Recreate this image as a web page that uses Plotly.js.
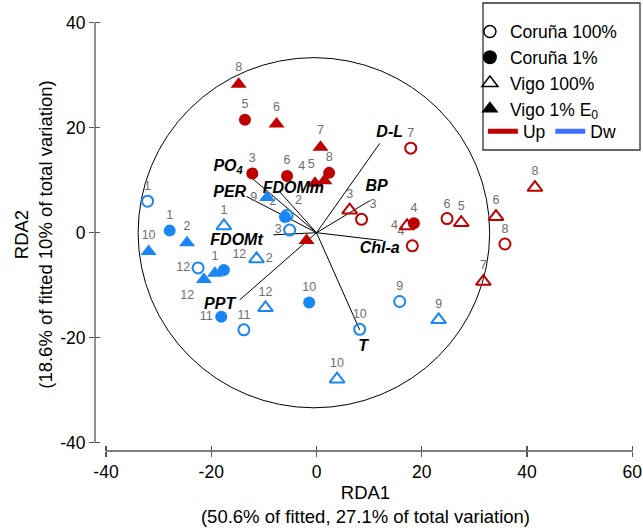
<!DOCTYPE html>
<html><head><meta charset="utf-8">
<script src="https://cdn.plot.ly/plotly-3.0.1.min.js"></script>
<style>html,body{margin:0;padding:0;background:#fff}</style>
</head><body><div id="chart" style="width:643px;height:528px"></div>
<script>
// ---------- data ----------
const xTicks = [-40, -20, 0, 20, 40, 60];
const xTickText = ['-40', '-20', '0', '20', '40', '60'];
const yTicks = [-40, -20, 0, 20, 40];
const yTickText = ['-40', '-20', '0', '20', '40'];

// Coruña 100% (open circles)
const c100UpLab = ['3', '4', '6', '7', '8'];
const c100UpX = [8.55, 18.2, 24.8, 17.9, 35.8];
const c100UpY = [2.55, -2.5, 2.7, 16.1, -2.15];
const c100DwLab = ['1', '2', '3', '9', '10', '11', '12'];
const c100DwX = [-32.1, -5.6, -5.1, 15.8, 8.2, -13.8, -22.5];
const c100DwY = [6.0, 3.3, 0.5, -13.1, -18.4, -18.5, -6.7];

// Coruña 1% (filled circles)
const c1UpLab = ['3', '4', '5', '6', '8'];
const c1UpX = [-12.2, 18.5, -13.6, -5.6, 2.4];
const c1UpY = [11.3, 1.8, 21.5, 10.8, 11.4];
const c1DwLab = ['1', '2', '10', '11', '12'];
const c1DwX = [-27.9, -6.0, -1.4, -18.1, -17.6];
const c1DwY = [0.4, 3.0, -13.3, -16.0, -7.1];

// Vigo 100% (open triangles)
const v100UpLab = ['3', '4', '5', '6', '7', '8'];
const v100UpX = [6.3, 17.2, 27.5, 34.1, 31.7, 41.5];
const v100UpY = [4.3, 1.3, 1.9, 3.05, -9.3, 8.6];
const v100DwLab = ['1', '2', '9', '10', '12'];
const v100DwX = [-17.6, -11.4, 23.2, 3.9, -9.7];
const v100DwY = [1.3, -5.0, -16.6, -27.9, -14.3];

// Vigo 1% E0 (filled triangles)
const v1UpLab = [' ', '4', '5', '6', '7', '8'];
const v1UpX = [-1.9, -0.3, 1.5, -7.6, 0.76, -14.8];
const v1UpY = [-1.5, 9.4, 9.9, 20.7, 16.3, 28.3];
const v1DwLab = ['1', '2', '9', '10', '12'];
const v1DwX = [-19.3, -24.6, -9.4, -31.9, -21.4];
const v1DwY = [-7.7, -1.9, 6.7, -3.6, -8.9];

// Explanatory variables (biplot vectors)
const varNames = ['D-L', 'BP', 'Chl-a', 'T', 'PPT', 'FDOMt', 'PER', 'PO<sub>4</sub>', 'FDOMm'];
const varEndX = [12.0, 10.1, 12.65, 8.2, -14.6, -8.2, -13.3, -13.0, -7.0];
const varEndY = [17.0, 6.1, -1.5, -18.5, -12.8, -0.4, 6.9, 11.0, 7.8];
const varLabX = [13.9, 11.4, 12.0, 8.85, -18.4, -15.2, -16.5, -16.8, -4.4];
const varLabY = [18.9, 8.65, -3.1, -21.7, -13.8, -1.5, 7.6, 12.5, 8.3];

// ---------- label placement (style) ----------
const c100UpPos = ['top right', 'top left', 'top center', 'top center', 'top center'];
const c100DwPos = ['top center', 'top right', 'middle left', 'top center', 'top center', 'top center', 'middle left'];
const c1UpPos = ['top center', 'top center', 'top center', 'top center', 'top center'];
const c1DwPos = ['top center', 'top left', 'top center', 'middle left', 'top right'];
const v100UpPos = ['top center', 'middle left', 'top center', 'top center', 'top center', 'top center'];
const v100DwPos = ['top center', 'middle right', 'top center', 'top center', 'top center'];
const v1UpPos = ['top center', 'top left', 'top left', 'top center', 'top center', 'top center'];
const v1DwPos = ['top center', 'top center', 'middle left', 'top center', 'bottom left'];

const FONT = 'Liberation Sans, Arial, Helvetica, sans-serif';
const RED = '#BE0000';
const BLUE = '#1A86F5';
const LABC = '#6e6e6e';

function pts(x, y, lab, pos, symbol, color, size) {
  const open = symbol.indexOf('open') >= 0;
  return {
    type: 'scatter', mode: 'markers+text', x: x, y: y, text: lab, textposition: pos,
    textfont: {family: FONT, size: 12.5, color: LABC},
    marker: {symbol: symbol, size: size, color: color, line: {color: color, width: open ? 2 : 0}},
    showlegend: false, hoverinfo: 'skip', cliponaxis: false
  };
}

// vectors
const vx = [], vy = [];
for (let i = 0; i < varEndX.length; i++) { vx.push(0, varEndX[i], null); vy.push(0, varEndY[i], null); }

const traces = [
  {type: 'scatter', mode: 'lines', x: vx, y: vy, line: {color: '#000', width: 1}, showlegend: false, hoverinfo: 'skip'},
  pts(c100UpX, c100UpY, c100UpLab, c100UpPos, 'circle-open', RED, 11),
  pts(c100DwX, c100DwY, c100DwLab, c100DwPos, 'circle-open', BLUE, 11),
  pts(v100UpX, v100UpY, v100UpLab, v100UpPos, 'triangle-up-open', RED, 13),
  pts(v100DwX, v100DwY, v100DwLab, v100DwPos, 'triangle-up-open', BLUE, 13),
  pts(c1UpX, c1UpY, c1UpLab, c1UpPos, 'circle', RED, 12),
  pts(c1DwX, c1DwY, c1DwLab, c1DwPos, 'circle', BLUE, 12),
  pts(v1UpX, v1UpY, v1UpLab, v1UpPos, 'triangle-up', RED, 14),
  pts(v1DwX, v1DwY, v1DwLab, v1DwPos, 'triangle-up', BLUE, 14),
  {type: 'scatter', mode: 'text', x: varLabX, y: varLabY,
   text: varNames.map(n => '<b><i>' + n + '</i></b>'), textposition: 'middle center',
   textfont: {family: FONT, size: 16, color: '#000'}, showlegend: false, hoverinfo: 'skip', cliponaxis: false},
  // legend entries
  {type: 'scatter', mode: 'markers', x: [null], y: [null], name: 'Coruña 100%', marker: {symbol: 'circle-open', size: 12, color: '#000', line: {width: 1.5}}, legend: 'legend'},
  {type: 'scatter', mode: 'markers', x: [null], y: [null], name: 'Coruña 1%', marker: {symbol: 'circle', size: 14, color: '#000'}, legend: 'legend'},
  {type: 'scatter', mode: 'markers', x: [null], y: [null], name: 'Vigo 100%', marker: {symbol: 'triangle-up-open', size: 14, color: '#000', line: {width: 1.5}}, legend: 'legend'},
  {type: 'scatter', mode: 'markers', x: [null], y: [null], name: 'Vigo 1% E<sub>0</sub>', marker: {symbol: 'triangle-up', size: 15, color: '#000'}, legend: 'legend'},
  {type: 'scatter', mode: 'lines', x: [null], y: [null], name: 'Up', line: {color: '#C00000', width: 5}, legend: 'legend2'},
  {type: 'scatter', mode: 'lines', x: [null], y: [null], name: 'Dw', line: {color: '#3F6FFF', width: 5}, legend: 'legend2'},
  // overlay axes for crossing ticks
  {type: 'scatter', mode: 'markers', x: [null], y: [null], xaxis: 'x2', yaxis: 'y2', showlegend: false, hoverinfo: 'skip'}
];

const AX = '#555';
const xr = [-42.09, 60.70], yr = [-41.58, 40.9];
const layout = {
  width: 643, height: 528,
  margin: {l: 95, r: 7, t: 18, b: 77, pad: 0},
  paper_bgcolor: '#fff', plot_bgcolor: '#fff',
  font: {family: FONT, color: '#000'},
  xaxis: {range: xr, tickmode: 'array', tickvals: xTicks, ticktext: xTickText, ticks: 'outside', ticklen: 5,
          tickcolor: AX, tickwidth: 1.2, tickfont: {size: 17.5, color: '#000'}, showgrid: false, zeroline: false, showline: false,
          title: {text: 'RDA1<br>(50.6% of fitted, 27.1% of total variation)', font: {size: 18.5, color: '#000'}, standoff: 3}},
  yaxis: {range: yr, tickmode: 'array', tickvals: yTicks, ticktext: yTickText, ticks: 'outside', ticklen: 5,
          tickcolor: AX, tickwidth: 1.2, tickfont: {size: 17.5, color: '#000'}, showgrid: false, zeroline: false, showline: false,
          title: {text: 'RDA2<br>(18.6% of fitted 10% of total variation)', font: {size: 18.5, color: '#000'}, standoff: 2}},
  xaxis2: {overlaying: 'x', matches: 'x', anchor: 'y2', tickmode: 'array', tickvals: xTicks, ticks: 'inside', ticklen: 5,
           tickcolor: AX, tickwidth: 1.2, showticklabels: false, showgrid: false, zeroline: false, showline: false},
  yaxis2: {overlaying: 'y', matches: 'y', anchor: 'x2', tickmode: 'array', tickvals: yTicks, ticks: 'inside', ticklen: 5,
           tickcolor: AX, tickwidth: 1.2, showticklabels: false, showgrid: false, zeroline: false, showline: false},
  legend: {x: 0.693, y: 1.01, xanchor: 'left', yanchor: 'top', bgcolor: 'rgba(0,0,0,0)', borderwidth: 0,
           font: {size: 17.5, color: '#000'}, orientation: 'v', tracegroupgap: 0},
  legend2: {x: 0.717, y: 0.78, xanchor: 'left', yanchor: 'top', bgcolor: 'rgba(0,0,0,0)', borderwidth: 0,
            font: {size: 17.5, color: '#000'}, orientation: 'h'},
  shapes: [
    {type: 'circle', xref: 'x', yref: 'y', x0: -33.9, x1: 32.9, y0: -33.35, y1: 33.35, line: {color: '#000', width: 1}, layer: 'below'},
    {type: 'line', xref: 'x', yref: 'paper', x0: xTicks[0], x1: xTicks[xTicks.length - 1], y0: 0, y1: 0, line: {color: AX, width: 1.3}},
    {type: 'line', xref: 'paper', yref: 'y', x0: 0, x1: 0, y0: yTicks[0], y1: yTicks[yTicks.length - 1], line: {color: AX, width: 1.3}},
    {type: 'rect', xref: 'paper', yref: 'paper', x0: 0.7172, x1: 1.0074, y0: 0.6952, y1: 1.0346, line: {color: '#333', width: 1.3}, fillcolor: 'rgba(0,0,0,0)'}
  ]
};

Plotly.newPlot('chart', traces, layout, {displayModeBar: false, staticPlot: true});
</script></body></html>
